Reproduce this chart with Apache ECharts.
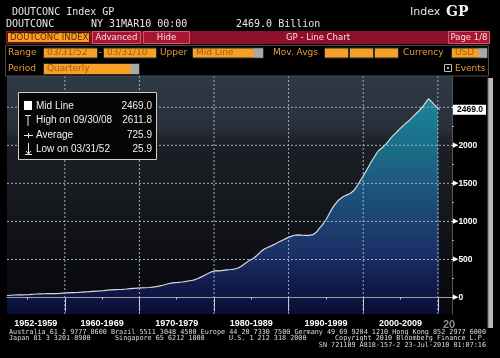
<!DOCTYPE html>
<html><head><meta charset="utf-8">
<script src="https://cdn.jsdelivr.net/npm/echarts@6/dist/echarts.min.js"></script>
<style>html,body{margin:0;padding:0;background:#000;}#c{width:500px;height:358px;}</style>
</head><body><div id="c"></div>
<script>
// ---- data (billions USD, quarterly, 1952 Q1 .. 2010 Q1) ----
const firstPeriod = 1952.25;   // quarter-end of 1952 Q1 in decimal years
const periodStep = 0.25;
const debtBillions = [
  25.9, 27.5, 29.3, 31.0,   // 1952
  32.6, 34.0, 35.0, 35.5,   // 1953
  35.6, 35.8, 36.3, 37.2,   // 1954
  38.6, 40.7, 42.8, 44.6,   // 1955
  45.8, 46.9, 47.9, 48.7,   // 1956
  49.4, 50.1, 50.7, 51.1,   // 1957
  50.9, 50.6, 50.8, 51.7,   // 1958
  53.3, 55.2, 57.3, 59.2,   // 1959
  60.9, 62.4, 63.7, 64.7,   // 1960
  64.9, 65.3, 66.3, 67.8,   // 1961
  69.3, 71.0, 72.7, 74.3,   // 1962
  76.1, 78.0, 80.0, 82.0,   // 1963
  83.7, 85.4, 87.3, 89.3,   // 1964
  91.4, 93.6, 95.8, 97.9,   // 1965
  99.7, 101.4, 103.0, 104.3, // 1966
  105.2, 106.4, 107.9, 109.6, // 1967
  111.5, 113.7, 116.1, 118.4, // 1968
  120.5, 122.5, 124.3, 125.7, // 1969
  126.5, 127.1, 128.0, 129.3, // 1970
  131.1, 133.6, 136.6, 139.8, // 1971
  143.5, 148.0, 153.0, 158.0, // 1972
  164.0, 170.5, 177.5, 184.0, // 1973
  188.5, 192.8, 196.0, 197.3, // 1974
  198.2, 200.4, 203.5, 207.0, // 1975
  211.0, 215.5, 220.0, 224.5, // 1976
  229.0, 236.0, 246.0, 257.0, // 1977
  268.0, 280.0, 293.0, 306.0, // 1978
  318.0, 330.0, 341.0, 348.0, // 1979
  352.0, 349.5, 350.0, 354.0, // 1980
  357.0, 360.5, 364.0, 366.0, // 1981
  368.0, 371.0, 374.0, 378.0, // 1982
  388.0, 402.0, 418.0, 435.0, // 1983
  452.0, 470.0, 488.0, 505.0, // 1984
  512.0, 530.0, 552.0, 578.0, // 1985
  600.0, 618.0, 638.0, 652.0, // 1986
  660.0, 671.0, 682.0, 695.0, // 1987
  707.0, 720.0, 733.0, 745.0, // 1988
  756.0, 768.0, 780.0, 790.0, // 1989
  800.0, 810.0, 818.0, 822.0, // 1990
  824.0, 822.0, 819.0, 817.0, // 1991
  816.0, 815.0, 817.0, 820.0, // 1992
  826.0, 838.0, 860.0, 895.0, // 1993
  920.0, 950.0, 985.0, 1022.0, // 1994
  1065.0, 1110.0, 1155.0, 1195.0, // 1995
  1228.0, 1258.0, 1285.0, 1305.0, // 1996
  1320.0, 1333.0, 1346.0, 1358.0, // 1997
  1366.0, 1377.0, 1405.0, 1440.0, // 1998
  1478.0, 1518.0, 1558.0, 1598.0, // 1999
  1640.0, 1682.0, 1724.0, 1770.0, // 2000
  1810.0, 1850.0, 1888.0, 1925.0, // 2001
  1945.0, 1965.0, 1985.0, 2010.0, // 2002
  2040.0, 2070.0, 2100.0, 2128.0, // 2003
  2150.0, 2175.0, 2200.0, 2225.0, // 2004
  2250.0, 2272.0, 2290.0, 2312.0, // 2005
  2335.0, 2360.0, 2385.0, 2408.0, // 2006
  2432.0, 2455.0, 2480.0, 2510.0, // 2007
  2545.0, 2580.0, 2611.8, 2595.0, // 2008
  2565.0, 2535.0, 2510.0, 2490.0, // 2009
  2469.0                          // 2010 Q1
];
const decadeLabels = ['1952-1959', '1960-1969', '1970-1979', '1980-1989', '1990-1999', '2000-2009', '20'];
const decadeLabelPositions = [1956.1, 1965, 1975, 1985, 1995, 2005, 2011.5];
const decadeBreaks = [1960, 1970, 1980, 1990, 2000, 2010];
const halfDecades = [1955, 1965, 1975, 1985, 1995, 2005];
const yGridValues = [0, 500, 1000, 1500, 2000, 2500];
const yLabelValues = [0, 500, 1000, 1500, 2000];
const yMinorTicks = [250, 750, 1250, 1750, 2250];
const legendRows = [
  { label: 'Mid Line', value: '2469.0' },
  { label: 'High on 09/30/08', value: '2611.8' },
  { label: 'Average', value: '725.9' },
  { label: 'Low on 03/31/52', value: '25.9' }
];
const footerLines = [
  { x: 9, y: 332, align: 'left', text: 'Australia 61 2 9777 8600 Brazil 5511 3048 4500 Europe 44 20 7330 7500 Germany 49 69 9204 1210 Hong Kong 852 2977 6000' },
  { x: 9, y: 338.5, align: 'left', text: 'Japan 81 3 3201 8900' },
  { x: 115, y: 338.5, align: 'left', text: 'Singapore 65 6212 1000' },
  { x: 229, y: 338.5, align: 'left', text: 'U.S. 1 212 318 2000' },
  { x: 335, y: 338.5, align: 'left', text: 'Copyright 2010 Bloomberg Finance L.P.' },
  { x: 486, y: 345, align: 'right', text: 'SN 721109 A818-157-2 23-Jul-2010 01:07:16' }
];

// ---- chart ----
const seriesData = debtBillions.map((v, i) => [firstPeriod + i * periodStep, v]);
const lastValue = debtBillions[debtBillions.length - 1];
const X_MIN = 1952.25, X_MAX = 2011.9, Y_MIN = -217, Y_MAX = 2911;

const mono = '"DejaVu Sans Mono"';
const sans = '"DejaVu Sans"';
const arial = '"Liberation Sans"';
const G = [];
function txt(x, y, text, fill, font, align, sx) {
  G.push({ type: 'text', x: x, y: y, z: 20, silent: true, scaleX: sx || 1,
    style: { text: text, fill: fill, font: font, align: align || 'left', verticalAlign: 'middle' } });
}
function rect(x, y, w, h, fill, stroke, z) {
  G.push({ type: 'rect', z: z || 19, silent: true, shape: { x: x, y: y, width: w, height: h },
    style: { fill: fill || 'none', stroke: stroke || 'none', lineWidth: 1 } });
}
const ORANGE_TXT = '#e8993a';
const BOX = '#f6a026';
const BOX_TXT = '#a85a10';
function box(x, y, w, h, text, cap) {
  rect(x + 0.5, y + 0.5, w, h, BOX, '#2a2a2a');
  if (cap) rect(x + w - cap + 0.5, y + 1, cap - 0.5, h - 1, '#a9a9a9');
  if (text) txt(x + 4, y + h / 2 + 0.5, text, BOX_TXT, '9px ' + sans);
}

// header rows
txt(12, 12, 'DOUTCONC Index GP', '#e6e6e6', '10px ' + mono);
txt(410, 12, 'Index', '#e6e6e6', '11px ' + sans);
txt(446, 12, 'GP', '#f2f2f2', 'bold 14px "DejaVu Serif"');
txt(6, 24.5, 'DOUTCONC', '#e6e6e6', '10px ' + mono);
txt(91, 24.5, 'NY 31MAR10 00:00', '#e6e6e6', '10px ' + mono);
txt(236, 24.5, '2469.0 Billion', '#e6e6e6', '10px ' + mono);

// red toolbar
rect(6, 31, 484, 13, '#8e0f2a', null, 18);
rect(7.5, 32.5, 82, 10, BOX, '#3a1a00');
txt(10, 38, 'DOUTCONC INDEX', '#5e2a00', '8.5px ' + sans);
rect(92.5, 31.5, 48, 12, '#a81634', '#d9566e');
txt(116.5, 38, 'Advanced', '#f6dde2', '8.5px ' + sans, 'center');
rect(143.5, 31.5, 46, 12, '#a81634', '#d9566e');
txt(166.5, 38, 'Hide', '#f6dde2', '8.5px ' + sans, 'center');
txt(318, 38, 'GP - Line Chart', '#f6dde2', '8.5px ' + sans, 'center');
rect(448.5, 31.5, 41, 12, '#a81634', '#d9566e');
txt(469, 38, 'Page 1/8', '#f6dde2', '8.5px ' + sans, 'center');

// settings frame
rect(5.5, 45.5, 483, 30.5, null, '#4a4a4a', 17);
txt(8, 53, 'Range', ORANGE_TXT, '9px ' + sans);
box(43, 47.5, 54, 10, '03/31/52');
txt(99, 52.5, '-', ORANGE_TXT, '9px ' + sans);
box(103, 47.5, 53, 10, '03/31/10');
txt(160, 53, 'Upper', ORANGE_TXT, '9px ' + sans);
box(192, 47.5, 71, 10, 'Mid Line', 10);
txt(273, 53, 'Mov. Avgs', ORANGE_TXT, '9px ' + sans);
box(324, 47.5, 24, 10, '');
box(349, 47.5, 24, 10, '');
box(374, 47.5, 24, 10, '');
txt(403, 53, 'Currency', ORANGE_TXT, '9px ' + sans);
box(451, 47.5, 36, 10, 'USD', 9);
txt(8, 68.5, 'Period', ORANGE_TXT, '9px ' + sans);
box(43, 63, 96, 11, 'Quarterly', 9);
rect(444.5, 64.5, 7, 7, '#000', '#bdbdbd');
rect(447, 67, 2, 2, '#bdbdbd');
txt(455, 68.5, 'Events', ORANGE_TXT, '9px ' + sans);

// legend box
rect(18.5, 92.5, 138, 67, '#050505', '#cfcfcf', 30);
const rowY = [106, 120.5, 135, 149];
legendRows.forEach((r, i) => {
  G.push({ type: 'text', x: 36, y: rowY[i], z: 31, silent: true,
    style: { text: r.label, fill: '#f0f0f0', font: '10px ' + arial, verticalAlign: 'middle' } });
  G.push({ type: 'text', x: 152, y: rowY[i], z: 31, silent: true,
    style: { text: r.value, fill: '#f0f0f0', font: '10px ' + arial, align: 'right', verticalAlign: 'middle' } });
});
G.push({ type: 'rect', z: 31, silent: true, shape: { x: 24, y: 101, width: 8, height: 9 }, style: { fill: '#fff' } });
function iline(x1, y1, x2, y2) {
  G.push({ type: 'line', z: 31, silent: true, shape: { x1: x1, y1: y1, x2: x2, y2: y2 }, style: { stroke: '#e8e8e8', lineWidth: 1 } });
}
iline(25, 115.5, 31, 115.5); iline(28, 115.5, 28, 126);
iline(24, 135.5, 33, 135.5); iline(28.5, 133, 28.5, 138);
iline(28.5, 143, 28.5, 154); iline(25, 154.5, 32, 154.5);
iline(26, 151, 28.5, 154); iline(31, 151, 28.5, 154);

// scrollbar
rect(488, 78, 5, 250, '#b9b9b9', null, 15);
rect(487.5, 78, 1, 250, '#6a6a6a', null, 15);

// footer (monospace, squeezed to the measured width of the first line)
const FOOT = '7px ' + mono;
const mctx = document.createElement('canvas').getContext('2d');
mctx.font = FOOT;
const footScale = 477 / mctx.measureText(footerLines[0].text).width;
footerLines.forEach(f => txt(f.x, f.y, f.text, '#dcdcdc', FOOT, f.align, footScale));

// dotted grid lines, as thin series placed through the axes
const gridLineStyle = { type: [2, 2], color: '#a3afbb', width: 1 };
const gridSeries = yGridValues.map(v => [[X_MIN, v], [X_MAX, v]])
  .concat(decadeBreaks.map(v => [[v, Y_MIN], [v, Y_MAX]]))
  .map(pts => ({
    type: 'line', xAxisIndex: 0, yAxisIndex: 0, z: 4, silent: true,
    data: pts, showSymbol: false, symbol: 'none',
    lineStyle: gridLineStyle, emphasis: { disabled: true }, animation: false
  }));

const chart = echarts.init(document.getElementById('c'), null, { renderer: 'canvas' });
chart.setOption({
  animation: false,
  backgroundColor: '#000',
  grid: {
    left: 7, right: 48, top: 76, bottom: 44, show: true, borderWidth: 0,
    backgroundColor: new echarts.graphic.LinearGradient(0, 0, 0, 1, [
      { offset: 0, color: '#2f3a45' },
      { offset: 0.22, color: '#28303a' },
      { offset: 0.28, color: '#1c2026' },
      { offset: 0.55, color: '#15181d' },
      { offset: 0.8, color: '#0c0d12' },
      { offset: 1, color: '#07070d' }
    ])
  },
  xAxis: [{
    type: 'value', min: X_MIN, max: X_MAX, position: 'bottom', z: 6,
    axisLine: { show: true, lineStyle: { color: '#9c9c9c', width: 1 } },
    axisTick: { show: true, customValues: decadeBreaks, length: 14, lineStyle: { color: '#c8c8c8', width: 1 } },
    axisLabel: {
      customValues: decadeLabelPositions, margin: 5,
      formatter: function (v) {
        const i = decadeLabelPositions.indexOf(v);
        const s = i >= 0 ? decadeLabels[i] : '';
        return i === decadeLabels.length - 1 ? '{g|' + s + '}' : s;
      },
      color: '#ffffff', fontFamily: 'Liberation Sans', fontWeight: 'bold', fontSize: 9,
      rich: { g: { color: '#8c8c8c', fontFamily: 'Liberation Sans', fontSize: 11 } }
    },
    splitLine: { show: false }
  }, {
    type: 'value', min: X_MIN, max: X_MAX, position: 'bottom', z: 6,
    axisLine: { show: false },
    axisTick: { show: true, customValues: halfDecades, length: 2, lineStyle: { color: '#d0d0d0' } },
    axisLabel: { show: false },
    splitLine: { show: false }
  }],
  yAxis: [{
    type: 'value', min: Y_MIN, max: Y_MAX, position: 'right', z: 6,
    axisLine: { show: true, lineStyle: { color: '#555', width: 1 } },
    axisTick: { show: true, customValues: yGridValues, length: 2, lineStyle: { color: '#fff' } },
    axisLabel: {
      customValues: yLabelValues.concat([lastValue]), margin: 1,
      formatter: function (v) {
        if (v === lastValue) return '{b|' + v.toFixed(1) + '}';
        return '{t|\u25B6}{v|' + v + '}';
      },
      rich: {
        t: { color: '#fff', fontSize: 7, fontFamily: 'DejaVu Sans' },
        v: { color: '#fff', fontSize: 8.5, fontWeight: 'bold', fontFamily: 'Liberation Sans' },
        b: { color: '#000', backgroundColor: '#fff', fontSize: 8.5, fontWeight: 'bold',
             fontFamily: 'Liberation Sans', padding: [1, 3, 0, 4] }
      }
    },
    splitLine: { show: false }
  }, {
    type: 'value', min: Y_MIN, max: Y_MAX, position: 'right', z: 6,
    axisLine: { show: false },
    axisTick: { show: true, customValues: yMinorTicks, length: 2, lineStyle: { color: '#aaa' } },
    axisLabel: { show: false },
    splitLine: { show: false }
  }],
  series: [{
    type: 'line', xAxisIndex: 0, yAxisIndex: 0, z: 2,
    data: seriesData, showSymbol: false, symbol: 'none',
    lineStyle: { color: '#d4dade', width: 1.2 },
    areaStyle: {
      origin: 'start', opacity: 1,
      color: new echarts.graphic.LinearGradient(0, 0, 0, 1, [
        { offset: 0, color: '#1b8599' },
        { offset: 0.25, color: '#1b6b88' },
        { offset: 0.5, color: '#1d4b77' },
        { offset: 0.72, color: '#1b3066' },
        { offset: 0.88, color: '#101848' },
        { offset: 1, color: '#0a0e38' }
      ])
    }
  }].concat(gridSeries),
  graphic: { elements: G }
});
</script></body></html>
